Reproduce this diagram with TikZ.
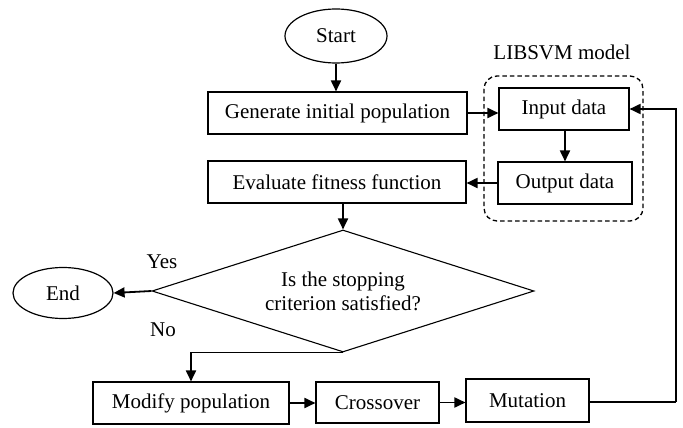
\documentclass[tikz,border=0pt]{standalone}
\usepackage{fontspec}
\setmainfont{Liberation Serif}
\usetikzlibrary{shapes.geometric,arrows.meta}
\begin{document}
\begin{tikzpicture}[x=1pt,y=-1pt,
  every node/.style={font=\fontsize{21}{24}\selectfont},
  box/.style={draw,line width=1.1pt,rectangle,inner sep=0pt},
  oval/.style={draw,line width=1.2pt,ellipse,inner sep=0pt},
  conn/.style={line width=1.8pt,-{Triangle[length=11pt,width=10pt]}},
  plain/.style={line width=1.8pt}]
\useasboundingbox (0,0) rectangle (683,428);
\node[oval,minimum width=102pt,minimum height=54pt] (start) at (336,36) {Start};
\node[box,minimum width=259pt,minimum height=42pt] (gen) at (337.5,113) {Generate initial population};
\node[box,minimum width=258pt,minimum height=42pt] (eval) at (337,182) {Evaluate fitness function};
\node[box,minimum width=130pt,minimum height=42pt] (input) at (564,109) {Input data};
\node[box,minimum width=134pt,minimum height=42pt] (output) at (565,183) {Output data};
\draw[line width=1.3pt,dash pattern=on 4.5pt off 3pt,rounded corners=13pt] (484,76) rectangle (643,221);
\node (lib) at (562,52) {LIBSVM model};
\node[draw,line width=1.1pt,diamond,aspect=3.13,inner sep=0pt,minimum width=382pt,minimum height=122pt,align=center] (dia) at (343,291) {Is the stopping\\criterion satisfied?};
\node[oval,minimum width=100pt,minimum height=51pt] (end) at (63,293) {End};
\node (yes) at (162,262) {Yes};
\node (no) at (163,330) {No};
\node[box,minimum width=196pt,minimum height=42pt] (modify) at (191,403) {Modify population};
\node[box,minimum width=123pt,minimum height=41pt] (cross) at (377.5,402.5) {Crossover};
\node[box,minimum width=123pt,minimum height=43pt] (mut) at (527.5,400.5) {Mutation};
\coordinate (rc) at (676,402);
\draw[conn] (start.south) -- (gen.north -| start.south);
\draw[conn] (gen.east) -- (gen.east -| input.west);
\draw[conn] (input.south -| output.north) -- (output.north);
\draw[conn] (output.west) -- (output.west -| eval.east);
\draw[conn] (eval.south -| dia.north) -- (dia.north);
\draw[conn] (dia.west) -- (end.east);
\draw[conn] (dia.south) -| (modify.north);
\draw[conn] (modify.east) -- (modify.east -| cross.west);
\draw[conn] (cross.east) -- (cross.east -| mut.west);
\draw[plain] (mut.east |- rc) -- (rc);
\draw[conn] (rc) |- (input.east);
\end{tikzpicture}
\end{document}
